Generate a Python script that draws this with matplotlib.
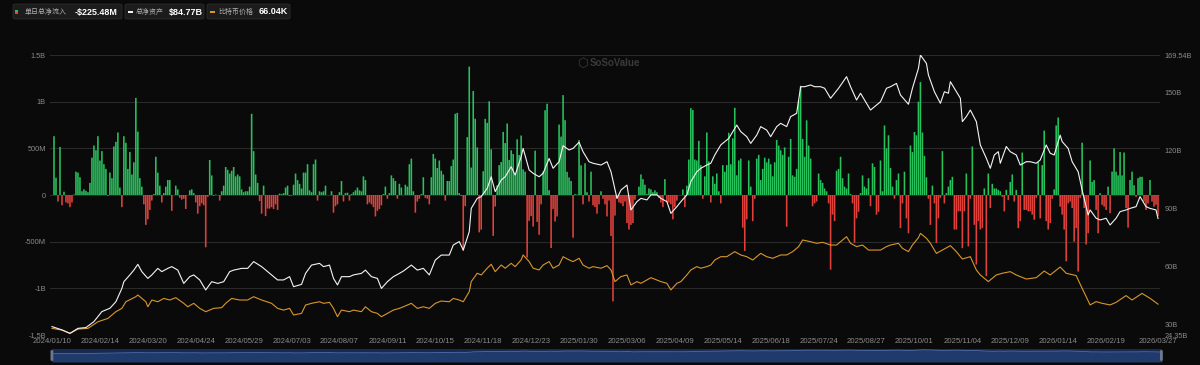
import numpy as np
import pandas as pd
import matplotlib
matplotlib.use("Agg")
import matplotlib.pyplot as plt
from matplotlib.patches import FancyBboxPatch, Rectangle

plt.rcParams['font.family'] = ['Liberation Sans', 'Noto Sans CJK SC', 'DejaVu Sans']

# US market holidays in the range (trading calendar for the category axis)
holidays = ['2024-01-15', '2024-02-19', '2024-03-29', '2024-05-27', '2024-06-19',
            '2024-07-04', '2024-09-02', '2024-11-28', '2024-12-25',
            '2025-01-01', '2025-01-09', '2025-01-20', '2025-02-17', '2025-04-18',
            '2025-05-26', '2025-06-19', '2025-07-04', '2025-09-01', '2025-11-27',
            '2025-12-25', '2026-01-01', '2026-01-19', '2026-02-16']
days = pd.bdate_range('2024-01-10', '2026-03-27', freq='C', holidays=holidays)

tick_labels = ['2024/01/10', '2024/02/14', '2024/03/20', '2024/04/24', '2024/05/29',
               '2024/07/03', '2024/08/07', '2024/09/11', '2024/10/15', '2024/11/18',
               '2024/12/23', '2025/01/30', '2025/03/06', '2025/04/09', '2025/05/14',
               '2025/06/18', '2025/07/24', '2025/08/27', '2025/10/01', '2025/11/04',
               '2025/12/09', '2026/01/14', '2026/02/19', '2026/03/27']

# daily total net inflow, $M, trading days from 2024/01/11
flow_m = [
    630, 185, -70, 515, -110, 35, -80, -90, -130, -80,
    5, 250, 240, 190, 40, 60, 45, 30, 130, 400,
    530, 480, 630, 370, 470, 330, 280, -10, 240, 180,
    520, 570, 670, 80, -130, 630, 560, 280, 460, 220,
    350, 1040, 680, 180, 90, -100, -320, -260, -160, -60,
    10, 410, 240, 100, -80, 20, 90, 160, 160, -170,
    0, 100, 60, -30, -50, -40, -150, 0, 50, 60,
    20, -80, -200, -120, -90, -110, -560, -20, 375, 210,
    -10, 5, 0, -60, 40, 100, 300, 270, 230, 260,
    300, 200, 220, 200, 60, 30, 40, 40, 90, 870,
    470, 220, 130, -65, -200, 100, -226, -145, -146, -130,
    -150, -100, -160, 15, 10, 20, 80, 100, -10, -5,
    110, 230, 160, 120, 70, 240, 240, 330, 50, 30,
    330, 380, -60, 40, 30, 40, 100, 0, 0, 40,
    -190, -120, -100, 30, 150, -70, 20, 25, -60, 10,
    30, 50, 80, 50, 40, 200, 160, -100, -80, -100,
    -130, -230, -170, -150, -110, 10, 90, -40, 20, 210,
    180, 150, -40, 120, 80, 0, 110, 90, 330, 390,
    40, -190, -70, -40, 10, 190, -30, -40, -100, 190,
    440, 390, 290, 370, 260, 220, -60, 150, 150, 310,
    380, 870, 880, 20, -10, -600, -120, 620, 1376, 294,
    1114, 817, 510, -400, -371, 255, 816, 773, 1004, 490,
    -438, -123, 105, 320, 353, 676, 556, 766, 376, 479,
    439, 223, 597, 428, 637, 275, 250, -670, -277, -226,
    -338, 475, -288, -426, -100, 250, 908, 978, 52, -568,
    -149, -284, -230, 755, 626, 1070, 802, 248, 188, 150,
    -458, 10, 5, 588, 318, -100, 340, 30, -70, 250,
    -110, -130, -200, -100, 40, -40, -100, -230, -60, -440,
    -1140, -220, -40, -80, -90, -120, -70, -300, -370, -320,
    -300, -50, 0, 90, 220, 170, 110, 10, 70, 60,
    30, 50, 30, -30, -80, -130, 170, -80, -80, -100,
    -260, -130, -60, 0, 0, 60, -130, 100, 380, 930,
    910, 380, 370, 580, 320, -40, 200, 670, 360, -80,
    200, 120, 230, 40, -90, 320, 250, 320, 667, 329,
    607, 934, 211, 370, 390, -350, -600, -260, 370, 90,
    -280, -40, 390, 430, 160, 280, 400, 350, 390, 330,
    200, 350, 590, 530, 480, 430, 510, -340, 410, 600,
    210, 195, 280, 1010, 1170, 600, 410, 800, 530, 390,
    -120, -90, -70, 230, 160, 130, 70, 40, -90, -800,
    -210, -280, 260, 280, 410, 180, 90, 70, 230, 10,
    -90, -510, -250, -180, 20, 210, 90, 70, 180, -120,
    340, 300, -210, -180, 370, 40, 745, 500, 640, 290,
    90, -40, 160, 230, -355, -90, 250, -250, -410, 530,
    460, 675, 640, 1000, 1210, 670, 420, 190, -40, -320,
    100, -90, -515, -250, -30, 470, -90, 20, 90, 160,
    195, -370, -370, -175, -175, -570, -175, 230, -550, -40,
    520, -320, -745, -280, -370, -355, 70, -870, 230, -140,
    120, 70, 70, 55, 40, -20, -175, 55, -55, 140,
    220, -70, 55, -355, -280, 455, -160, -160, -175, -175,
    -210, -265, -30, 355, -250, 320, 690, -280, -370, -300,
    -40, 60, 745, 830, -125, -210, -370, -710, -90, -70,
    -140, -500, -355, -820, -30, 560, -140, -530, -410, 370,
    140, 160, -160, -410, 20, -105, -125, -160, 90, -195,
    250, 500, 250, 210, 460, 210, 455, -140, -350, 160,
    250, 105, -20, 180, 195, 195, -70, -160, -90, 160,
    -70, -125, -105, -225.48,
]

# total net assets ($B): trading-day number (0 = 2024/01/10) and value
aum_day = [0, 5, 9, 13, 17, 21, 25, 29, 32, 35, 36, 39, 41, 43, 45, 48, 50, 53, 55, 58,
           60, 63, 66, 69, 71, 74, 77, 80, 83, 86, 89, 91, 95, 98, 101, 105, 108,
           113, 116, 119, 121, 125, 127, 130, 134, 136, 139, 141, 143, 145, 149, 151, 155,
           157, 160, 163, 165, 168, 171, 174, 176, 180, 183, 186, 189, 192, 195, 199, 201,
           204, 206, 209, 210, 213, 215, 218, 220,
           222, 225, 227, 230, 232, 235, 236, 239, 241, 244, 246, 249, 251, 254, 256, 259,
           261, 264, 266, 269, 271, 275, 278, 280, 283, 285, 288, 290, 293, 295, 298, 300,
           303, 305, 308, 310, 313, 315, 318, 320, 323, 325, 328, 330,
           332, 335, 339, 341, 343, 345, 348, 350, 353, 355, 358, 360, 363, 365, 368, 370,
           373, 375, 377, 380, 382, 385, 387, 390, 394, 398, 400, 403, 405, 408, 410, 413,
           415, 418, 420, 423, 425, 429, 431, 434, 435, 438,
           439, 442, 445, 447, 449, 450, 453, 455, 456, 458, 460, 463, 465, 468, 470, 472,
           474, 475, 478, 480, 483, 485, 488, 490, 493, 495, 498, 500, 502, 505, 506, 509,
           511, 514, 516, 519, 520, 523, 525, 528, 530, 533, 535, 538, 540, 543, 545, 548,
           550, 553, 554]
aum_bn = [28.7, 27.0, 25.2, 27.8, 28.2, 31.3, 36.5, 38.2, 41.6, 48.5, 52.0, 55.5, 58.0, 61.0,
          57.2, 53.7, 55.5, 58.9, 57.2, 58.9, 59.8, 58.0, 51.1, 54.6, 55.5, 52.9, 47.7, 52.0,
          51.1, 52.0, 57.2, 58.0, 58.9, 58.9, 62.4, 59.8, 57.2,
          52.9, 52.9, 54.6, 49.4, 50.6, 56.3, 60.6, 61.5, 59.8, 60.6, 53.7, 50.3, 54.6, 54.6,
          55.5, 56.3, 58.0, 54.6, 53.7, 48.5, 52.0, 54.6, 56.3, 57.5, 60.6, 58.0, 58.9, 55.5,
          63.2, 65.8, 65.8, 71.0, 72.8, 68.4, 77.9, 90.0, 95.2, 96.1, 100.4, 106.4,
          98.7, 104.7, 106.4, 111.6, 107.3, 116.8, 121.1, 109.9, 108.2, 106.4, 108.2, 115.9,
          110.8, 114.2, 122.5, 120.3, 121.1, 124.3, 119.4, 114.2, 113.4, 112.5, 114.2, 109.0,
          95.2, 99.5, 102.1, 89.2, 93.5, 95.2, 94.4, 97.0, 97.0, 95.2, 93.5, 87.4, 90.9, 93.5,
          97.0, 103.9, 109.0, 110.8, 112.5, 113.4,
          117.7, 122.9, 126.3, 129.8, 133.2, 129.8, 127.2, 123.7, 128.0, 132.4, 130.6, 127.2,
          132.4, 134.1, 132.4, 137.6, 139.3, 153.1, 153.1, 154.0, 153.1, 153.1, 152.3, 147.1,
          152.3, 158.3, 153.1, 146.2, 149.7, 144.5, 141.0, 143.6, 145.3, 152.3, 153.1, 154.8,
          148.8, 144.0, 152.3, 162.6, 169.5, 165.2,
          159.2, 150.5, 144.5, 150.5, 149.7, 155.7, 150.5, 147.1, 135.0, 137.6, 141.0, 135.0,
          122.9, 116.0, 110.8, 117.7, 119.4, 113.4, 122.1, 119.4, 117.7, 112.5, 114.2, 114.2,
          113.4, 115.1, 122.9, 118.6, 117.7, 128.0, 124.6, 121.1, 114.2, 109.0, 99.5, 86.6,
          89.2, 84.9, 84.0, 84.9, 81.4, 84.9, 88.3, 89.2, 90.0, 90.9, 96.1, 90.9, 90.0, 89.2,
          84.77]

# bitcoin price ($K): trading-day number and value
btc_day = [0, 5, 9, 13, 18, 23, 28, 32, 35, 37, 42, 43, 47, 48, 50, 53, 56, 59, 62, 66, 68,
           71, 74, 77, 81, 85, 87, 90, 94, 98, 101, 105, 110,
           113, 116, 119, 121, 125, 127, 130, 134, 136, 139, 141, 143, 145, 149, 151, 155, 157,
           160, 163, 165, 168, 171, 174, 176, 180, 183, 186, 189, 192, 195, 199, 201, 204, 206,
           209, 210, 213, 215, 218, 220,
           222, 225, 227, 230, 232, 235, 236, 239, 241, 244, 246, 249, 251, 254, 256, 259, 261,
           264, 266, 269, 271, 275, 278, 280, 282, 285, 288, 290, 293, 295, 298, 300, 303, 305,
           308, 310, 313, 315, 318, 320, 323, 325, 328, 330,
           332, 335, 338, 342, 345, 348, 351, 355, 358, 361, 365, 368, 371, 374, 376, 380, 383,
           386, 390, 393, 395, 398, 400, 403, 406, 409, 411, 415, 418, 420, 424, 426, 429, 431,
           434, 435, 438,
           440, 443, 446, 450, 453, 456, 460, 463, 465, 469, 473, 476, 480, 483, 488, 493, 497,
           500, 505, 508, 513, 516, 520, 523, 526, 530, 533, 538, 541, 546, 550, 554]
btc_k = [46.3, 44.9, 42.2, 45.7, 46.3, 51.7, 54.4, 59.9, 62.6, 68.0, 72.1, 73.5, 68.0, 63.9,
         69.4, 68.0, 70.7, 69.4, 71.3, 66.7, 63.9, 66.7, 62.6, 59.9, 62.6, 63.2, 66.7, 70.7,
         69.4, 69.4, 72.1, 69.4, 66.7,
         62.6, 61.2, 62.6, 57.2, 58.5, 65.3, 66.7, 68.0, 66.7, 67.5, 62.6, 55.8, 61.2, 59.9,
         61.2, 59.9, 63.9, 59.9, 58.5, 55.8, 58.5, 61.2, 62.6, 63.9, 66.7, 62.6, 63.9, 62.6,
         66.7, 68.6, 68.0, 70.7, 69.4, 68.0, 76.2, 84.4, 91.2, 89.8, 95.3, 98.5,
         92.5, 97.9, 95.3, 99.3, 96.6, 102.1, 106.1, 100.7, 95.3, 93.9, 97.9, 100.7, 95.3,
         97.9, 104.7, 102.1, 100.7, 103.4, 97.9, 95.3, 96.6, 95.3, 97.4, 93.9, 84.4, 88.5,
         89.8, 81.7, 84.4, 83.0, 85.7, 87.6, 85.7, 84.4, 83.0, 77.6, 83.0, 84.4, 89.8, 93.9,
         96.6, 95.3, 96.6, 97.9,
         102.0, 104.7, 104.7, 108.8, 106.1, 104.7, 102.0, 107.4, 104.7, 103.4, 106.1, 106.1,
         108.8, 112.9, 118.3, 116.9, 115.6, 116.4, 114.2, 114.2, 116.9, 121.0, 115.6, 112.9,
         114.2, 110.1, 110.1, 110.1, 112.9, 114.2, 115.6, 111.5, 108.8, 114.2, 120.2, 123.7,
         119.7,
         115.6, 107.4, 110.1, 113.7, 108.8, 102.8, 104.7, 93.9, 89.8, 84.4, 89.8, 91.2, 92.5,
         89.8, 86.5, 87.6, 93.0, 89.8, 96.3, 91.2, 89.3, 78.9, 65.4, 68.1, 66.7, 65.4, 67.5,
         73.0, 69.4, 74.8, 70.8, 66.04]

BG = '#0a0a0a'
GREEN = '#27c25c'
RED = '#e0413b'
WHITE = '#f4f4f4'
GOLD = '#d8962c'
TXT = '#8a8a8a'
W, H = 1200, 365

def fx(x):
    return x / W

def fy(y):
    return 1 - y / H

fig = plt.figure(figsize=(12, 3.65), dpi=100, facecolor=BG)

ax = fig.add_axes([fx(50), fy(335), 1110 / W, 280 / H])
ax.set_facecolor(BG)
flow = np.array(flow_m, dtype=float) / 1000.0
x_flow = np.arange(1, len(flow) + 1)
pos = flow >= 0
ax.bar(x_flow[pos], flow[pos], width=0.8, color=GREEN, edgecolor='none', zorder=3, snap=False)
ax.bar(x_flow[~pos], flow[~pos], width=0.8, color=RED, edgecolor='none', zorder=3, snap=False)
ax.set_xlim(-1, 555)
ax.set_ylim(-1.5, 1.5)
ax.set_yticks([1.5, 1, 0.5, 0, -0.5, -1, -1.5], ['1.5B', '1B', '500M', '0', '-500M', '-1B', '-1.5B'])
tick_pos = [days.get_loc(pd.Timestamp(s.replace('/', '-'))) for s in tick_labels]
ax.set_xticks(tick_pos, tick_labels)
ax.grid(axis='y', color='#2a2a2a', lw=0.8, zorder=0)
ax.tick_params(axis='y', length=0, pad=3, labelsize=5.3, labelcolor=TXT)
ax.tick_params(axis='x', length=0, pad=2.5, labelsize=5.6, labelcolor=TXT)
for s in ax.spines.values():
    s.set_visible(False)

# hidden price axis
ax3 = ax.twinx()
ax3.plot(btc_day, btc_k, color=GOLD, lw=0.8, zorder=4)
ax3.set_ylim(40.9, 269.0)
ax3.axis('off')

# right axis: total net assets
ax2 = ax.twinx()
ax2.plot(aum_day, aum_bn, color=WHITE, lw=0.8, zorder=5)
ax2.set_ylim(24.35, 169.54)
ax2.set_yticks([169.54, 150, 120, 90, 60, 30, 24.35],
               ['169.54B', '150B', '120B', '90B', '60B', '30B', '24.35B'])
ax2.tick_params(axis='y', length=0, pad=3.5, labelsize=5.3, labelcolor=TXT)
for s in ax2.spines.values():
    s.set_visible(False)
ax2.set_xlim(-1, 555)

# watermark
fig.text(fx(582), fy(63), '\u2B21', color='#3a3a3a', fontsize=9, ha='center', va='center',
         family=['DejaVu Sans'])
fig.text(fx(590), fy(63), 'SoSoValue', color='#3a3a3a', fontsize=7, fontweight='bold',
         ha='left', va='center')

# range slider at the bottom
axs = fig.add_axes([fx(52), fy(362), 1110 / W, 13 / H])
axs.set_facecolor('#182a50')
axs.fill_between(aum_day, aum_bn, -300, color='#213a6c', lw=0)
axs.plot(aum_day, aum_bn, color='#4d6fae', lw=0.6)
axs.set_xlim(0, 554)
axs.set_ylim(-300, 200)
axs.set_xticks([])
axs.set_yticks([])
for s in axs.spines.values():
    s.set_visible(False)
for hx in (50.5, 1160):
    fig.patches.append(FancyBboxPatch((fx(hx), fy(361)), 2.8 / W, 11 / H,
                                      boxstyle='round,pad=0,rounding_size=0.002',
                                      transform=fig.transFigure, fc='#6f7788', ec='none'))

# legend chips
chips = [(13, 122), (125, 204), (207, 290)]
for x0, x1 in chips:
    fig.patches.append(FancyBboxPatch((fx(x0), fy(19)), (x1 - x0) / W, 15 / H,
                                      boxstyle='round,pad=0,rounding_size=0.003',
                                      transform=fig.transFigure, fc='#1c1c1c', ec='#2c2c2c', lw=0.6))
fig.patches.append(Rectangle((fx(14.5), fy(12.2)), 3 / W, 1.8 / H, transform=fig.transFigure,
                             fc=GREEN, ec='none'))
fig.patches.append(Rectangle((fx(14.5), fy(14)), 3 / W, 1.8 / H, transform=fig.transFigure,
                             fc=RED, ec='none'))
fig.patches.append(Rectangle((fx(127.5), fy(13.2)), 5.5 / W, 2.2 / H, transform=fig.transFigure,
                             fc=WHITE, ec='none'))
fig.patches.append(Rectangle((fx(209.5), fy(13.2)), 5.5 / W, 2.2 / H, transform=fig.transFigure,
                             fc=GOLD, ec='none'))

legend_items = [('单日总净流入', '-$225.48M', 25, 75),
                ('总净资产', '$84.77B', 136, 169),
                ('比特币价格', '66.04K', 218, 259)]
for name, val, xl, xv in legend_items:
    fig.text(fx(xl), fy(12), name, color='#b0b0b0', fontsize=5, ha='left', va='center')
    fig.text(fx(xv), fy(12), val, color='white', fontsize=6.5, fontweight='bold',
             ha='left', va='center')

fig.savefig('out.png', dpi=100, facecolor=BG)
